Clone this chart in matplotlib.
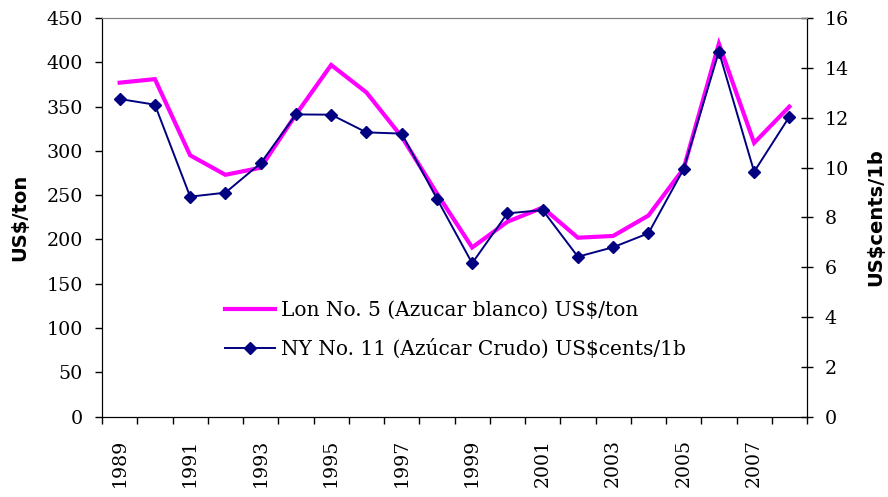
import numpy as np
import matplotlib
matplotlib.use("Agg")
import matplotlib.pyplot as plt
from matplotlib.lines import Line2D

# data
years = list(range(1989, 2009))
lon_no5 = [377, 381, 295, 273, 281, 341, 397, 366, 316, 252,
           191, 220, 236, 202, 204, 227, 280, 421, 309, 350]   # US$/ton (left)
ny_no11 = [12.75, 12.52, 8.83, 8.99, 10.17, 12.13, 12.12, 11.41, 11.36, 8.75,
           6.16, 8.16, 8.29, 6.42, 6.80, 7.36, 9.94, 14.65, 9.83, 12.04]  # US$cents/lb (right)

lon_label = "Lon No. 5 (Azucar blanco) US$/ton"
ny_label = "NY No. 11 (Azúcar Crudo) US$cents/1b"

pink = "#FF00FF"
navy = "#000080"
serif = "DejaVu Serif"

fig = plt.figure(figsize=(8.88, 4.97), dpi=100)
ax = fig.add_axes([0.1149, 0.1616, 0.7939, 0.8022])
ax2 = ax.twinx()

x = np.arange(len(years))
ax.plot(x, lon_no5, color=pink, lw=3.0, solid_joinstyle="miter", zorder=2)
ax2.plot(x, ny_no11, color=navy, lw=1.4, marker="D", ms=6.5,
         mfc=navy, mec=navy, zorder=3)

ax.set_xlim(-0.5, len(years) - 0.5)
ax.set_ylim(0, 450)
ax2.set_ylim(0, 16)

ax.set_yticks(np.arange(0, 451, 50))
ax2.set_yticks(np.arange(0, 17, 2))

# category axis: ticks between categories, labels at every other year
ax.set_xticks(np.arange(-0.5, len(years), 1.0))
ax.set_xticklabels([])
ax.set_xticks(x[::2], minor=True)
ax.set_xticklabels([str(y) for y in years[::2]], minor=True, rotation=90,
                   fontsize=13.6, family=serif)
ax.tick_params(axis="x", which="major", direction="out", length=5, width=1)
ax.tick_params(axis="x", which="minor", length=0, pad=16)

ax.tick_params(axis="y", direction="out", length=5, width=1, pad=9,
               labelsize=13.7)
ax2.tick_params(axis="y", direction="inout", length=9, width=1, pad=8,
                labelsize=13.7)
for lab in ax.get_yticklabels() + ax2.get_yticklabels():
    lab.set_family(serif)

for a in (ax, ax2):
    a.spines["top"].set_color("#808080")
    a.spines["left"].set_color("black")
    a.spines["right"].set_color("black")
    a.spines["bottom"].set_color("black")

ax.set_ylabel("US$/ton", fontsize=14, fontweight="bold", family="DejaVu Sans",
              labelpad=12)
ax2.set_ylabel("US$cents/1b", fontsize=14, fontweight="bold",
               family="DejaVu Sans", labelpad=13)

handles = [Line2D([], [], color=pink, lw=3.0),
           Line2D([], [], color=navy, lw=1.4, marker="D", ms=6.5, mfc=navy, mec=navy)]
fig.legend(handles, [lon_label, ny_label], loc="upper left",
           bbox_to_anchor=(0.2534, 0.395), frameon=False, borderpad=0,
           borderaxespad=0, handlelength=2.5, handletextpad=0.3,
           labelspacing=0.95, prop={"family": serif, "size": 14.5})

fig.savefig("out.png", dpi=100)
